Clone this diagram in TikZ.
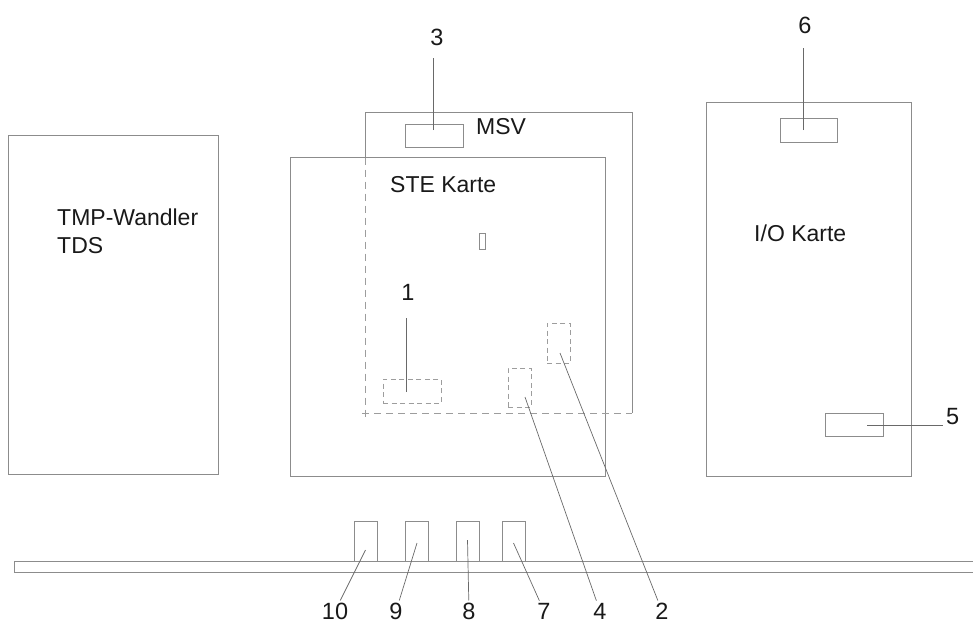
\documentclass[tikz,border=0pt]{standalone}
\usepackage{fontspec}
\setmainfont{Liberation Sans}
\usetikzlibrary{calc}
\definecolor{lgray}{RGB}{140,140,140}
\definecolor{dgray}{RGB}{105,105,105}
\definecolor{txt}{RGB}{25,25,25}

\begin{document}
\begin{tikzpicture}[x=1pt, y=-1pt,
  board/.style={draw=lgray, line width=0.9pt, inner sep=0pt, outer sep=0pt},
  chip/.style={draw=lgray, line width=0.8pt, inner sep=0pt, outer sep=0pt},
  hidden/.style={draw=lgray!85, line width=0.8pt, dash pattern=on 5pt off 3.5pt},
  lead/.style={draw=dgray, line width=0.7pt},
  num/.style={font=\fontsize{23.5}{27}\selectfont, text=txt, inner sep=2pt},
  cardname/.style={font=\fontsize{23}{28}\selectfont, text=txt, inner sep=0pt, anchor=base west}]
  \useasboundingbox (0,0) rectangle (973,624);

  % Boards
  \node[board, minimum width=210pt, minimum height=339pt] (tmp) at (113,304.5) {};
  \node[board, minimum width=315pt, minimum height=318.5pt] (ste) at (447.5,316.75) {};
  \node[board, minimum width=205pt, minimum height=374pt] (io) at (808.5,289) {};
  \node[cardname] (tmpname) at (57,225) {TMP-Wandler};
  \node[cardname] (tdsname) at (57,253) {TDS};
  \node[cardname] (stename) at (390,192) {STE Karte};
  \node[cardname] (msvname) at (476,134) {MSV};
  \node[cardname] (ioname) at (754,241) {I/O Karte};

  % MSV outline (hidden part behind STE dashed)
  \draw[board] (365,157.5) |- (632,112) -- (632,413);
  \draw[hidden, dash pattern=on 7pt off 5pt] (365,157.5) -- (365,418);
  \draw[hidden, dash pattern=on 7pt off 5pt] (362,413) -- (632,413);

  % Chips
  \node[chip, minimum width=58pt, minimum height=23pt] (r3) at (434,135.5) {};
  \node[chip, minimum width=57pt, minimum height=24pt] (r6) at (808.5,130) {};
  \node[chip, minimum width=58pt, minimum height=23pt] (r5) at (854,424.5) {};
  \node[chip, minimum width=6pt, minimum height=16pt] (tiny) at (482,241) {};
  \node[hidden, inner sep=0pt, minimum width=58pt, minimum height=24pt] (r1) at (412,391) {};
  \node[hidden, inner sep=0pt, minimum width=23pt, minimum height=39pt] (r4) at (519.5,387.5) {};
  \node[hidden, inner sep=0pt, minimum width=23pt, minimum height=40pt] (r2) at (558.5,343) {};

  % Rail
  \node[chip, minimum width=976pt, minimum height=11pt] (rail) at (502,566.5) {};

  % Labels
  \node[num] (l3) at (437,37) {3};
  \node[num] (l6) at (805,25) {6};
  \node[num] (l1) at (408,292) {1};
  \node[num, anchor=west, inner sep=0pt] (l5) at (946,417) {5};
  \node[num] (l4) at (600,611) {4};
  \node[num] (l2) at (662,611) {2};

  \coordinate (c3) at (433,130);
  \coordinate (c6) at (803,130);
  \coordinate (c1) at (406,392);
  \coordinate (c5) at (867,425);
  \coordinate (c4) at (525,397);
  \coordinate (c2) at (560,353);

  \draw[lead, shorten >=10pt] (c3) -- (c3 |- l3.south);
  \draw[lead, shorten >=12pt] (c6) -- (c6 |- l6.south);
  \draw[lead, shorten >=16pt] (c1) -- (c1 |- l1.south);
  \draw[lead, shorten >=3pt] (c5) -- (c5 -| l5.west);
  \draw[lead] (c4) -- (l4);
  \draw[lead] (c2) -- (l2);

  % Plugs on the rail
  \foreach \n/\x/\cy/\lx in {10/365.5/550/335, 9/417/543/396, 8/467.5/540/469, 7/513.5/543/544}{
    \node[chip, minimum width=23pt, minimum height=40pt] (plug\n) at (\x,541) {};
    \node[num] (l\n) at (\lx,611) {\n};
    \coordinate (c\n) at (\x,\cy);
    \draw[lead] (c\n) -- (l\n);
  }
\end{tikzpicture}
\end{document}
